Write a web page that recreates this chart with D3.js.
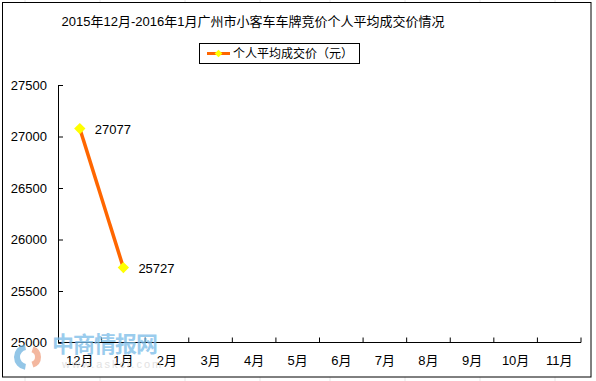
<!DOCTYPE html>
<html><head><meta charset="utf-8">
<script src="https://cdn.jsdelivr.net/npm/d3@7/dist/d3.min.js"></script>
<style>
body{margin:0;background:#fff;}
svg text{font-family:"Liberation Sans","Noto Sans CJK SC",sans-serif;fill:#000;}
</style></head>
<body><svg id="c" width="596" height="381"></svg>
<script>
const title = "2015年12月-2016年1月广州市小客车车牌竞价个人平均成交价情况";
const seriesName = "个人平均成交价（元）";
const categories = ["12月","1月","2月","3月","4月","5月","6月","7月","8月","9月","10月","11月"];
const values = [27077, 25727];
const yTicks = [25000, 25500, 26000, 26500, 27000, 27500];

const svg = d3.select("#c");
// faint spreadsheet grid behind
const gridX = [25, 100, 185, 260, 330, 405, 480, 555];
svg.selectAll(".gx").data(gridX).join("line")
  .attr("x1", d => d).attr("x2", d => d).attr("y1", 0).attr("y2", 381)
  .attr("stroke", "#e6e6e6");
// chart frame
svg.append("rect").attr("x", 2.5).attr("y", 2.5).attr("width", 588.5).attr("height", 374.5)
  .attr("fill", "#fff").attr("stroke", "#000").attr("stroke-width", 1);

const L = 58, R = 581, T = 85, B = 342.5;
const x = d3.scaleBand().domain(categories).range([L, R]);
const y = d3.scaleLinear().domain([25000, 27500]).range([B, T]);

// title
svg.append("text").attr("x", 253).attr("y", 26).attr("text-anchor", "middle")
  .style("font-size", "13px").text(title);

const diamond = d3.symbol(d3.symbolSquare, 64)();

// legend
const lg = svg.append("g");
lg.append("rect").attr("x", 199.5).attr("y", 43.5).attr("width", 160).attr("height", 20)
  .attr("fill", "#fff").attr("stroke", "#000");
lg.append("line").attr("x1", 207).attr("x2", 230).attr("y1", 53.5).attr("y2", 53.5)
  .attr("stroke", "#FF6600").attr("stroke-width", 3);
lg.append("path").attr("d", d3.symbol(d3.symbolSquare, 30)()).attr("transform", "translate(218.5,53.5) rotate(45)")
  .attr("fill", "#FFFF00");
lg.append("text").attr("x", 233).attr("y", 58).style("font-size", "12px").text(seriesName);

// y axis
const yAxis = d3.axisLeft(y).tickValues(yTicks).tickSize(-5).tickPadding(11).tickFormat(d3.format("d"));
const ya = svg.append("g").attr("transform", `translate(${L},0)`).call(yAxis);
ya.select(".domain").attr("stroke", "#000");
ya.selectAll(".tick line").attr("stroke", "#000");
ya.selectAll("text").style("font-size", "13px").attr("fill", "#000");

// x axis
const xAxis = d3.axisBottom(x).tickSize(0).tickPadding(13);
const xa = svg.append("g").attr("transform", `translate(0,${B})`).call(xAxis);
xa.select(".domain").attr("d", `M${L},0H${R}`).attr("stroke", "#000");
xa.selectAll("text").style("font-size", "13px").attr("fill", "#000").attr("dy", "0.75em");
// boundary ticks (pointing up)
const bounds = categories.map(c => x(c)).concat([R]).slice(1);
svg.selectAll(".bt").data(bounds).join("line")
  .attr("x1", d => d).attr("x2", d => d).attr("y1", B).attr("y2", B - 5).attr("stroke", "#000");

// watermark
const wm = svg.append("g").attr("opacity", 0.75);
wm.append("path").attr("d", d3.arc()({innerRadius: 7, outerRadius: 13, startAngle: Math.PI*1.05, endAngle: Math.PI*1.95}))
  .attr("transform", "translate(27,357)").attr("fill", "#6fb3e0");
wm.append("path").attr("d", d3.arc()({innerRadius: 5, outerRadius: 11, startAngle: Math.PI*0.1, endAngle: Math.PI*0.9}))
  .attr("transform", "translate(30,357)").attr("fill", "#f0a080");
wm.append("text").attr("x", 52).attr("y", 352).style("font-size", "22px").style("font-weight", "bold")
  .style("fill", "#79bbe8").style("letter-spacing", "-1px").text("中商情报网");
wm.append("text").attr("x", 62).attr("y", 368).style("font-size", "11px").style("fill", "#d8d8d8")
  .style("letter-spacing", "2px").text("www.askci.com");

// line series
const cx = (d, i) => x(categories[i]) + x.bandwidth() / 2;
const line = d3.line().x((d, i) => cx(d, i)).y(d => y(d));
svg.append("path").datum(values).attr("d", line).attr("fill", "none")
  .attr("stroke", "#FF6600").attr("stroke-width", 3.5);
svg.selectAll(".pt").data(values).join("path")
  .attr("d", diamond)
  .attr("transform", (d, i) => `translate(${cx(d, i)},${y(d)}) rotate(45)`)
  .attr("fill", "#FFFF00");
svg.selectAll(".lbl").data(values).join("text")
  .attr("x", (d, i) => cx(d, i) + 15).attr("y", d => y(d) + 5)
  .style("font-size", "13px").text(d => d);
</script></body></html>
